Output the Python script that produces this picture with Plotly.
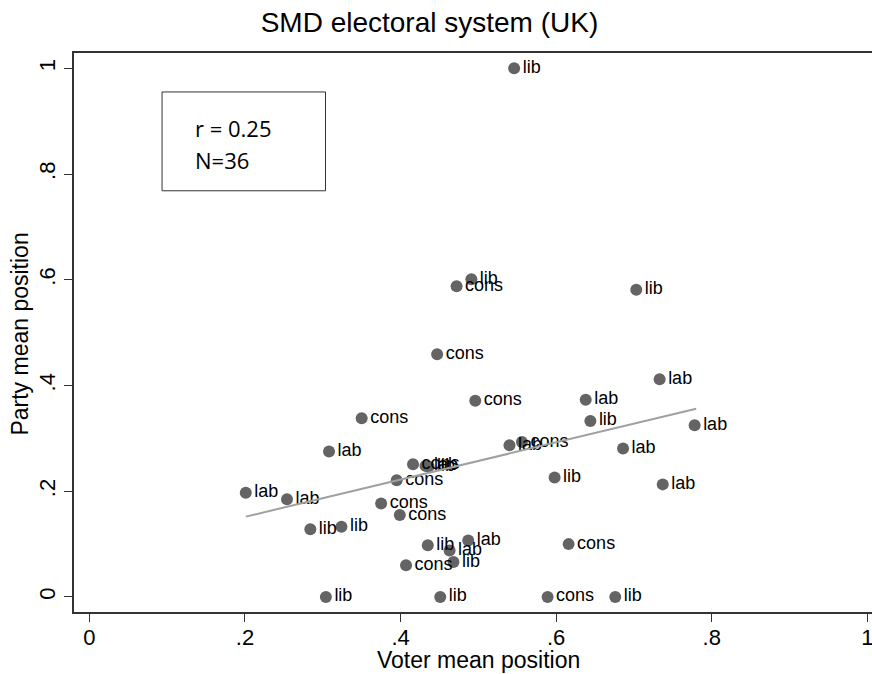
import plotly.graph_objects as go

# Party-level observations: voter mean position vs. party mean position
voter_pos = [0.546, 0.491, 0.472, 0.703, 0.447, 0.733, 0.638, 0.644, 0.778,
             0.686, 0.598, 0.737, 0.350, 0.308, 0.201, 0.254, 0.284, 0.324,
             0.416, 0.432, 0.436, 0.540, 0.556, 0.395, 0.375, 0.399, 0.435,
             0.487, 0.463, 0.468, 0.407, 0.616, 0.451, 0.589, 0.676, 0.304,
             0.496]
party_pos = [1.000, 0.601, 0.588, 0.581, 0.459, 0.412, 0.373, 0.333, 0.325,
             0.281, 0.226, 0.213, 0.338, 0.275, 0.197, 0.185, 0.128, 0.133,
             0.251, 0.248, 0.247, 0.287, 0.293, 0.221, 0.177, 0.155, 0.098,
             0.107, 0.088, 0.066, 0.060, 0.100, 0.000, 0.000, 0.000, 0.000,
             0.371]
party = ["lib", "lib", "cons", "lib", "cons", "lab", "lab", "lib", "lab",
         "lab", "lib", "lab", "cons", "lab", "lab", "lab", "lib", "lib",
         "cons", "lab", "lib", "lab", "cons", "cons", "cons", "cons", "lib",
         "lab", "lab", "lib", "cons", "cons", "lib", "cons", "lib", "lib",
         "cons"]

# Linear fit endpoints
fit_x = [0.201, 0.780]
fit_y = [0.152, 0.356]

x_ticks = [0, 0.2, 0.4, 0.6, 0.8, 1]
x_tick_text = ["0", ".2", ".4", ".6", ".8", "1"]
y_ticks = [0, 0.2, 0.4, 0.6, 0.8, 1]
y_tick_text = ["0", ".2", ".4", ".6", ".8", "1"]

stats_lines = ["r = 0.25", "N=36"]

FONT = "Liberation Sans, Arial, Helvetica, sans-serif"
AXIS_COLOR = "#333333"

fig = go.Figure()

fig.add_trace(go.Scatter(
    x=voter_pos, y=party_pos, mode="markers+text",
    text=party, textposition="middle right",
    textfont=dict(family=FONT, size=18, color="black"),
    marker=dict(size=12, color="#646464"),
    cliponaxis=False, showlegend=False, hoverinfo="skip",
))

fig.add_trace(go.Scatter(
    x=fit_x, y=fit_y, mode="lines",
    line=dict(color="#a0a0a0", width=2),
    showlegend=False, hoverinfo="skip",
))

# Statistics box
fig.add_shape(type="rect", xref="x", yref="y",
              x0=0.0934, x1=0.3035, y0=0.7684, y1=0.9553,
              line=dict(color=AXIS_COLOR, width=1), fillcolor="white",
              layer="below")
for txt, yy in zip(stats_lines, [0.888, 0.826]):
    fig.add_annotation(x=0.1334, y=yy, xref="x", yref="y", text=txt,
                       showarrow=False, xanchor="left", yanchor="middle",
                       font=dict(family="Open Sans, Noto Sans, sans-serif",
                                 size=22, color="black"))

# Axis titles
fig.add_annotation(x=0.5075, y=-0.086, xref="paper", yref="paper",
                   text="Voter mean position", showarrow=False,
                   xanchor="center", yanchor="middle",
                   font=dict(family=FONT, size=23, color="black"))
fig.add_annotation(x=-0.0677, y=0.498, xref="paper", yref="paper",
                   text="Party mean position", showarrow=False, textangle=-90,
                   xanchor="center", yanchor="middle",
                   font=dict(family=FONT, size=23, color="black"))

fig.update_layout(
    width=872, height=674,
    margin=dict(l=74, r=0, t=53, b=62),
    paper_bgcolor="white", plot_bgcolor="white",
    title=dict(text="SMD electoral system (UK)", x=0.4925, xanchor="center",
               y=1 - 22 / 674, yanchor="middle",
               font=dict(family=FONT, size=28, color="black")),
    xaxis=dict(range=[-0.0198, 1.006], tickvals=x_ticks, ticktext=x_tick_text,
               showgrid=False, zeroline=False, showline=True, mirror=True,
               linecolor=AXIS_COLOR, linewidth=1.5,
               ticks="outside", ticklen=8, tickwidth=1.2, tickcolor=AXIS_COLOR,
               ticklabeloverflow="allow", ticklabelstandoff=-3,
               tickfont=dict(family=FONT, size=22, color="black")),
    yaxis=dict(range=[-0.0284, 1.029], tickvals=y_ticks, ticktext=y_tick_text,
               showgrid=False, zeroline=False, showline=True, mirror=False,
               linecolor=AXIS_COLOR, linewidth=1.5,
               ticks="outside", ticklen=8, tickwidth=1.2, tickcolor=AXIS_COLOR,
               tickangle=-90,
               tickfont=dict(family=FONT, size=22, color="black")),
)

fig.write_html("out.html")
